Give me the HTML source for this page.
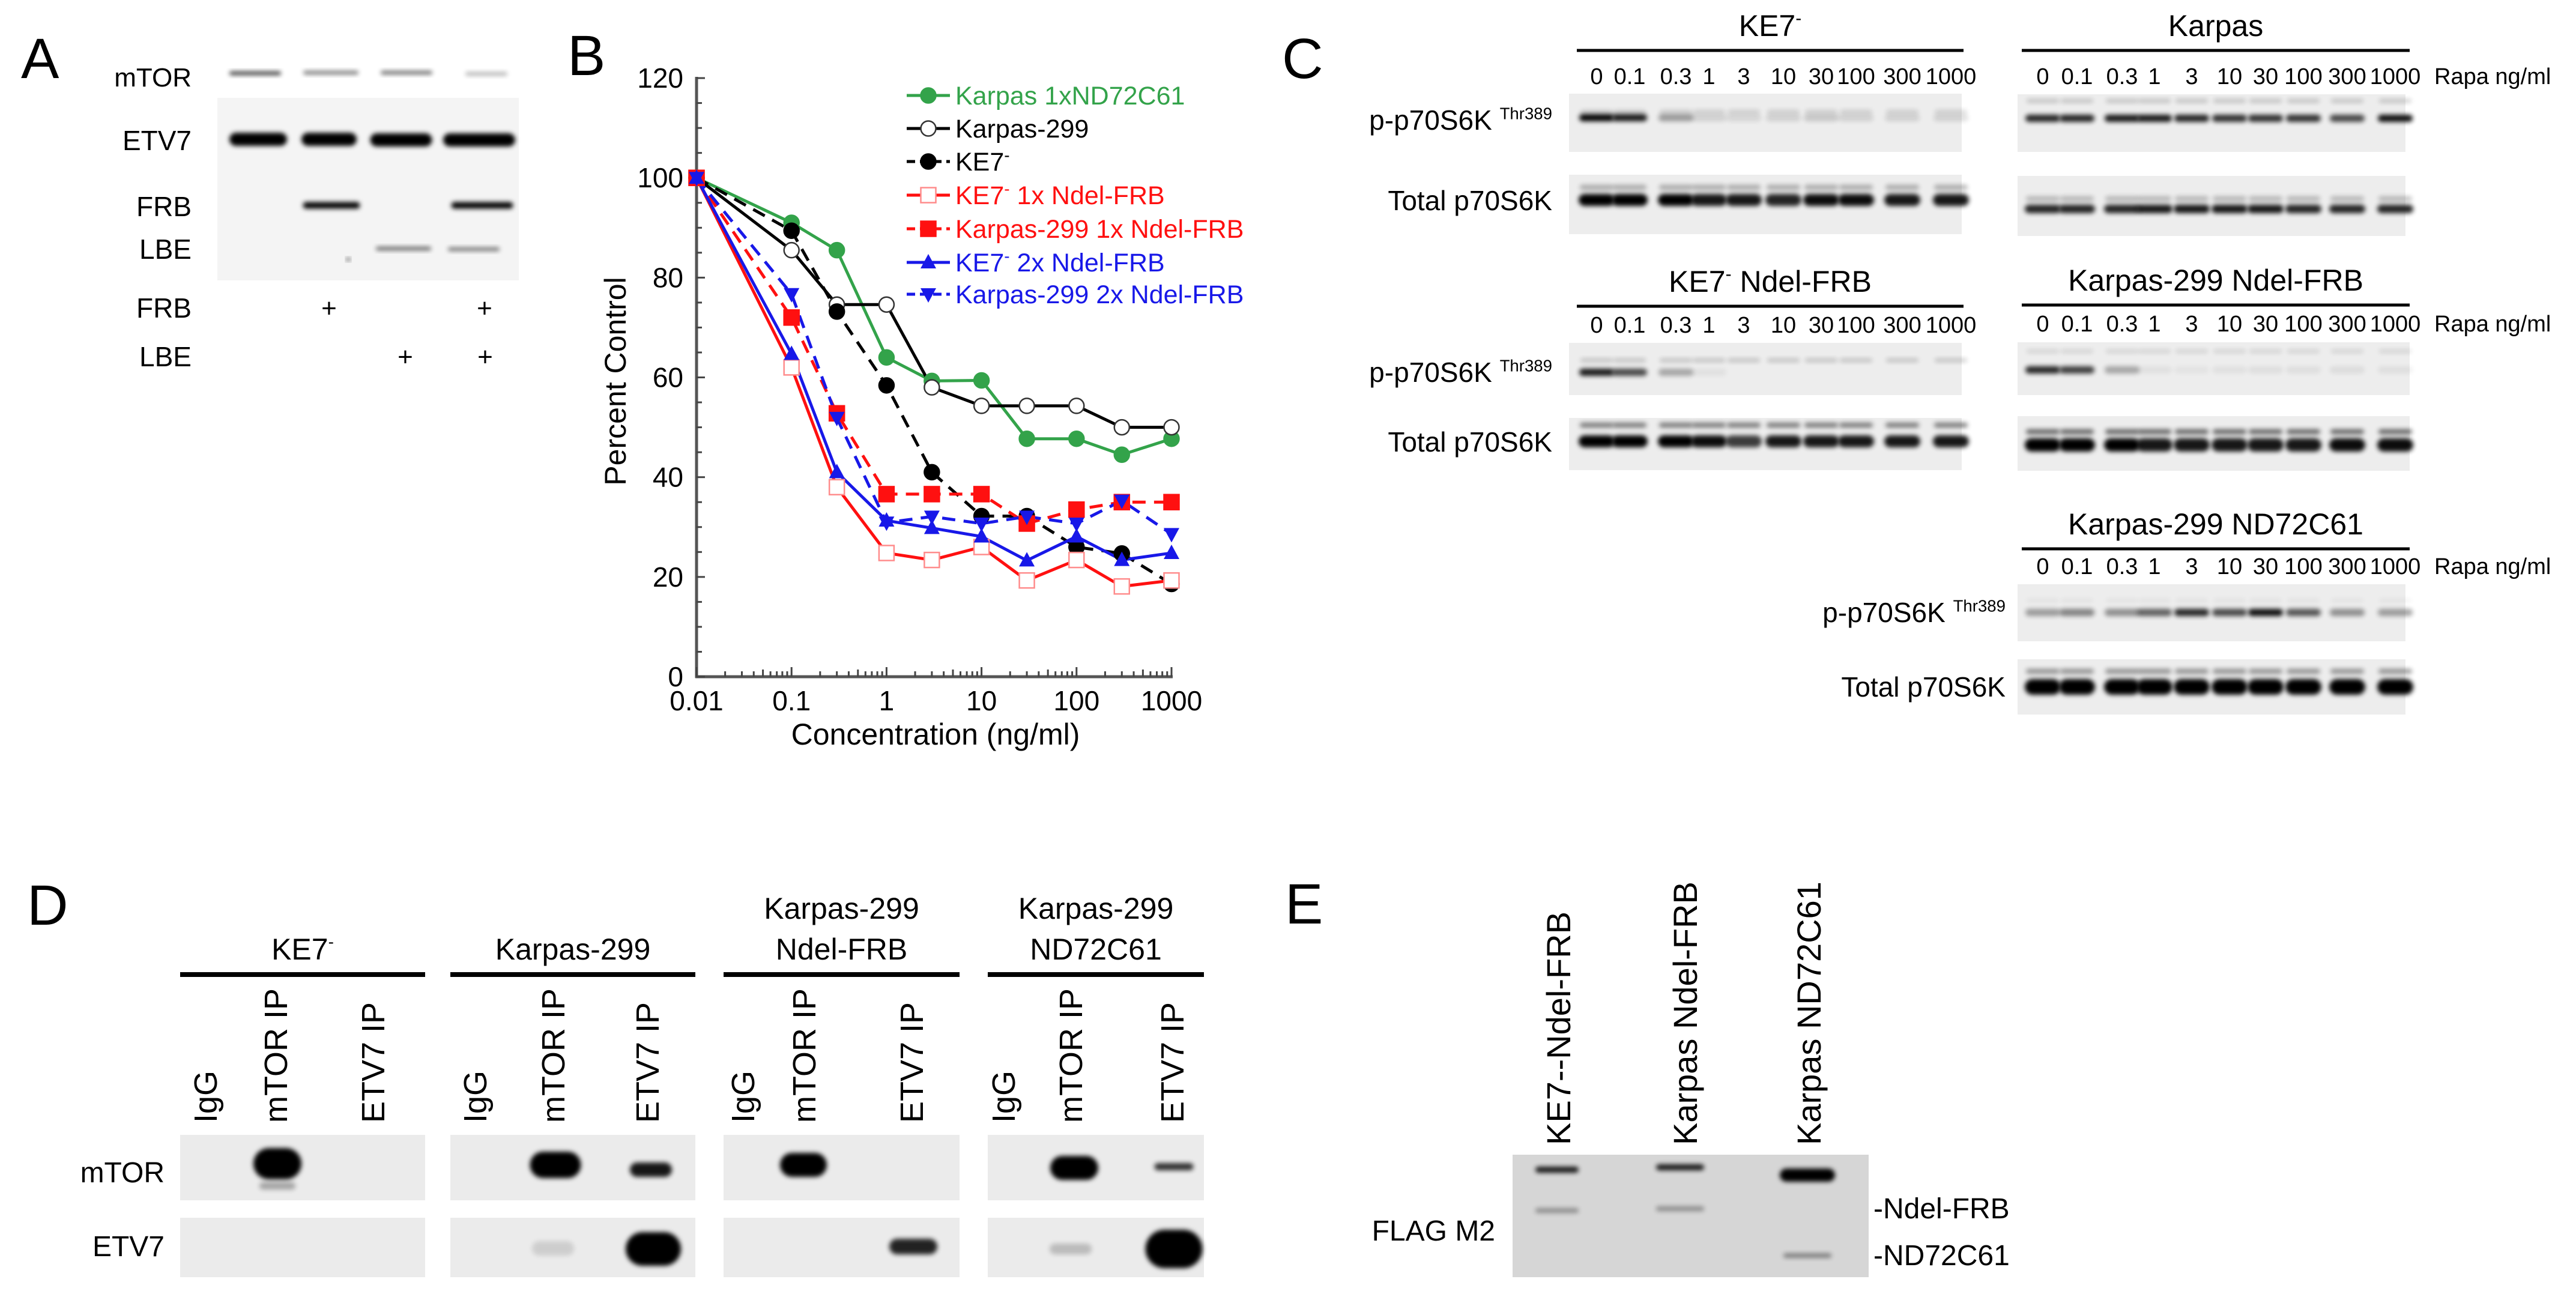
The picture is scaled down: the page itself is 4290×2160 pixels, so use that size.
<!DOCTYPE html>
<html><head><meta charset="utf-8"><style>
html,body{margin:0;padding:0;background:#fff}
svg{display:block;font-family:"Liberation Sans",Arial,sans-serif}
</style></head><body>
<svg id="fig" width="4290" height="2160" viewBox="0 0 4290 2160" xmlns="http://www.w3.org/2000/svg">
<defs>
<filter id="blur" x="-20%" y="-100%" width="140%" height="300%"><feGaussianBlur stdDeviation="4"/></filter>
</defs>
<rect width="4290" height="2160" fill="#fff"/>
<g font-size="95" fill="#000">
<text x="35" y="130">A</text>
<text x="945" y="125">B</text>
<text x="2135" y="130">C</text>
<text x="45" y="1540">D</text>
<text x="2140" y="1538">E</text>
</g>
<g id="panelA"></g>
<g id="panelB"></g>
<g id="panelC"></g>
<g id="panelD"></g>
<g id="panelE"></g>
</svg>
<script>
// ---------- Chart B data ----------
const concentrations = [0.01, 0.1, 0.3, 1, 3, 10, 30, 100, 300, 1000];
const karpasND72C61 = [100, 91, 85.5, 64, 59.3, 59.4, 47.7, 47.7, 44.5, 47.7];
const karpas299 = [100, 85.5, 74.6, 74.6, 58, 54.3, 54.3, 54.3, 50, 50];
const ke7 = [100, 89.4, 73.2, 58.4, 41, 32.2, 32.2, 26, 24.7, 18.6];
const ke7Ndel1x = [100, 62, 38, 24.8, 23.4, 26, 19.3, 23.4, 18.1, 19.3];
const karpasNdel1x = [100, 72, 52.8, 36.6, 36.6, 36.6, 30.7, 33.5, 35, 35];
const ke7Ndel2x = [100, 64.7, 41, 31.3, 29.8, 28.1, 23.3, 28.1, 23.4, 24.8];
const karpasNdel2x = [100, 76.7, 51.9, 30.9, 32.1, 30.7, 32.1, 30.7, 35.3, 28.6];
const seriesNames = ["Karpas 1xND72C61", "Karpas-299", "KE7- ", "KE7- 1x Ndel-FRB", "Karpas-299 1x Ndel-FRB", "KE7- 2x Ndel-FRB", "Karpas-299 2x Ndel-FRB"];
const yTicks = [0, 20, 40, 60, 80, 100, 120];
const xTicks = [0.01, 0.1, 1, 10, 100, 1000];
const xTickLabels = ["0.01", "0.1", "1", "10", "100", "1000"];

const NS = "http://www.w3.org/2000/svg";
function mk(tag, attrs, parent) {
  const e = document.createElementNS(NS, tag);
  for (const k in attrs) e.setAttribute(k, attrs[k]);
  if (parent) parent.appendChild(e);
  return e;
}
function txt(parent, x, y, s, size, anchor, fill, name) {
  const t = mk('text', {x: x, y: y, 'font-size': size, 'text-anchor': anchor || 'start', fill: fill || '#000'}, parent);
  t.textContent = s;
  
  
  return t;
}

// ---------- Chart B ----------
(function () {
  const g = document.getElementById('panelB');
  const X0 = 1160, DEC = 158.2, Y0 = 1127, PY = 8.308;
  const xs = v => X0 + (Math.log10(v) + 2) * DEC;
  const ys = v => Y0 - v * PY;
  const ax = mk('line', {x1: X0, y1: ys(120) - 2, x2: X0, y2: Y0 + 2, stroke: '#555', 'stroke-width': 5}, g);
  
  
  const bx = mk('line', {x1: X0 - 2, y1: Y0, x2: xs(1000) + 2, y2: Y0, stroke: '#555', 'stroke-width': 5}, g);
  
  
  for (let v = 0; v <= 120; v += 5) {
    const major = v % 20 === 0;
    const t = mk('line', {x1: X0, x2: X0 + (major ? 14 : 9), y1: ys(v), y2: ys(v), stroke: '#444', 'stroke-width': 3}, g);
    
    
  }
  yTicks.forEach(v => txt(g, X0 - 22, ys(v) + 16, String(v), 46, 'end', '#000', 'y-tick-label'));
  for (let d = -2; d < 3; d++) {
    for (let m = 2; m <= 9; m++) {
      const xv = xs(m * Math.pow(10, d));
      const t = mk('line', {x1: xv, x2: xv, y1: Y0, y2: Y0 - (m === 5 ? 12 : 9), stroke: '#444', 'stroke-width': 3}, g);
      
      
    }
  }
  xTicks.forEach((v, i) => {
    const t = mk('line', {x1: xs(v), x2: xs(v), y1: Y0, y2: Y0 - 16, stroke: '#444', 'stroke-width': 3}, g);
    
    
    txt(g, xs(v), Y0 + 56, xTickLabels[i], 46, 'middle', '#000', 'x-tick-label');
  });
  txt(g, 1558, 1240, 'Concentration (ng/ml)', 50, 'middle', '#000', 'x-axis-title');
  const yt = txt(g, 0, 0, 'Percent  Control', 50, 'middle', '#000', 'y-axis-title');
  yt.setAttribute('transform', 'translate(1042,635) rotate(-90)');

  const series = [
    {d: karpasND72C61, c: '#33a34a', dash: null, m: 'circle', fill: '#33a34a'},
    {d: karpas299, c: '#000', dash: null, m: 'circle', fill: '#fff'},
    {d: ke7, c: '#000', dash: '22 14', m: 'circle', fill: '#000'},
    {d: ke7Ndel1x, c: '#ff1010', dash: null, m: 'square', fill: '#fff', stroke: '#ff8c8c'},
    {d: karpasNdel1x, c: '#ff1010', dash: '22 14', m: 'square', fill: '#ff1010'},
    {d: ke7Ndel2x, c: '#1818e8', dash: null, m: 'tri', fill: '#1818e8'},
    {d: karpasNdel2x, c: '#1818e8', dash: '22 14', m: 'dtri', fill: '#1818e8'}
  ];
  function marker(par, s, x, y, name) {
    let e;
    if (s.m === 'circle') e = mk('circle', {cx: x, cy: y, r: 12.5, fill: s.fill, stroke: s.fill === '#fff' ? '#333' : s.c, 'stroke-width': 2.5}, par);
    else if (s.m === 'square') e = mk('rect', {x: x - 12.5, y: y - 12.5, width: 25, height: 25, fill: s.fill, stroke: s.stroke || s.c, 'stroke-width': 2.5}, par);
    else if (s.m === 'tri') e = mk('polygon', {points: `${x},${y - 14} ${x + 13},${y + 10} ${x - 13},${y + 10}`, fill: s.fill}, par);
    else e = mk('polygon', {points: `${x},${y + 14} ${x + 13},${y - 10} ${x - 13},${y - 10}`, fill: s.fill}, par);
    
    
  }
  series.forEach((s, i) => {
    const pts = s.d.map((v, j) => xs(concentrations[j]) + ',' + ys(v)).join(' ');
    const pl = mk('polyline', {points: pts, fill: 'none', stroke: s.c, 'stroke-width': 5}, g);
    if (s.dash) pl.setAttribute('stroke-dasharray', s.dash);
    
    
  });
  series.forEach((s, i) => {
    s.d.forEach((v, j) => marker(g, s, xs(concentrations[j]), ys(v), 'data-point'));
  });
  const legY = [159, 214, 269, 325, 381, 437, 490];
  const colors = ['#33a34a', '#000', '#000', '#ff1010', '#ff1010', '#1818e8', '#1818e8'];
  series.forEach((s, i) => {
    const y = legY[i];
    const l = mk('line', {x1: 1510, x2: 1582, y1: y, y2: y, stroke: s.c, 'stroke-width': 5}, g);
    if (s.dash) l.setAttribute('stroke-dasharray', '14 8');
    
    
    marker(g, s, 1546, y, 'legend-marker');
    const nm = seriesNames[i];
    const t = txt(g, 1591, y + 15, '', 43, 'start', colors[i], 'legend-entry');
    if (nm.startsWith('KE7-')) {
      const a = mk('tspan', {}, t); a.textContent = 'KE7';
      const b = mk('tspan', {'font-size': 28, dy: -16}, t); b.textContent = '-';
      const c = mk('tspan', {dy: 16}, t); c.textContent = nm.slice(4);
    } else t.textContent = nm;
  });
})();

function bg(par, x, y, w, h, fill, name) {
  const r = mk('rect', {x: x, y: y, width: w, height: h, fill: fill}, par);
  
  
}
function band(par, cx, cy, w, h, op) {
  if (op <= 0) return;
  const r = mk('rect', {x: cx - w / 2, y: cy - h / 2, width: w, height: h, rx: h / 2, fill: '#000', opacity: op, filter: 'url(#blur)'}, par);
  
  
}
function supLabel(par, x, y, base, sup, size, anchor, name) {
  const t = txt(par, x, y, '', size, anchor, '#000', name);
  const a = mk('tspan', {}, t); a.textContent = base;
  const b = mk('tspan', {'font-size': size * 0.6, dy: -size * 0.38}, t); b.textContent = sup;
  return t;
}

// ---------- Panel A ----------
(function () {
  const g = document.getElementById('panelA');
  bg(g, 362, 163, 502, 304, '#f4f4f4', 'blot-a');
  txt(g, 319, 144, 'mTOR', 44, 'end', '#000', 'row-label');
  txt(g, 319, 250, 'ETV7', 46, 'end', '#000', 'row-label');
  txt(g, 319, 360, 'FRB', 46, 'end', '#000', 'row-label');
  txt(g, 319, 431, 'LBE', 46, 'end', '#000', 'row-label');
  txt(g, 319, 529, 'FRB', 46, 'end', '#000', 'row-label');
  txt(g, 319, 610, 'LBE', 46, 'end', '#000', 'row-label');
  [[425, 122, 86, 0.8], [551, 121, 92, 0.55], [677, 121, 86, 0.6], [810, 123, 70, 0.3]].forEach(b => band(g, b[0], b[1], b[2], 6, b[3]));
  [[430, 232, 96], [548, 232, 92], [668, 233, 103], [798, 233, 120]].forEach(b => band(g, b[0], b[1], b[2], 22, 1));
  band(g, 552, 342, 95, 11, 1); band(g, 803, 342, 103, 11, 1);
  band(g, 672, 414, 92, 6, 0.6); band(g, 789, 415, 86, 6, 0.55);
  band(g, 580, 432, 8, 4, 0.8);
  txt(g, 548, 528, '+', 44, 'middle', '#000', 'frb-plus');
  txt(g, 807, 528, '+', 44, 'middle', '#000', 'frb-plus');
  txt(g, 675, 609, '+', 44, 'middle', '#000', 'lbe-plus');
  txt(g, 808, 609, '+', 44, 'middle', '#000', 'lbe-plus');
})();

// ---------- Panel C ----------
(function () {
  const g = document.getElementById('panelC');
  const lanesL = [2659, 2714, 2791, 2846, 2904, 2970, 3033, 3091, 3168, 3249];
  const lanesR = [3402, 3459, 3534, 3588, 3650, 3713, 3773, 3836, 3909, 3989];
  const labels = ['0', '0.1', '0.3', '1', '3', '10', '30', '100', '300', '1000'];
  function group(lanes, x0, x1, title, titleSup, ty, ly, rapa) {
    const cx = (x0 + x1) / 2;
    if (titleSup !== null) {
      const t = txt(g, cx, ty, '', 50, 'middle', '#000', 'group-title');
      const a = mk('tspan', {}, t); a.textContent = 'KE7';
      const b = mk('tspan', {'font-size': 30, dy: -20}, t); b.textContent = '-';
      const c = mk('tspan', {dy: 20}, t); c.textContent = titleSup;
    } else txt(g, cx, ty, title, 50, 'middle', '#000', 'group-title');
    const l = mk('line', {x1: x0, x2: x1, y1: ty + 24, y2: ty + 24, stroke: '#000', 'stroke-width': 5}, g);
    
    
    lanes.forEach((x, i) => txt(g, x, ly, labels[i], 38, 'middle', '#000', 'lane-label'));
    if (rapa) txt(g, 4054, ly, 'Rapa ng/ml', 38, 'start', '#000', 'rapa-label');
  }
  function rows(lanes, bx0, bx1, py0, py1, pY, pOps, upY, upOp, ty0, ty1, tY, tOps, tUpY, tUpOp, tH) {
    bg(g, bx0, py0, bx1 - bx0, py1 - py0, '#ededed', 'blot-phospho');
    bg(g, bx0, ty0, bx1 - bx0, ty1 - ty0, '#ededed', 'blot-total');
    lanes.forEach((x, i) => {
      band(g, x, pY, 58, 12, pOps[i]);
      band(g, x, upY, 54, 6, upOp);
      band(g, x, tY, 60, tH, tOps[i]);
      band(g, x, tUpY, 56, 8, tUpOp);
    });
  }
  group(lanesL, 2626, 3270, 'KE7', '', 60, 140, false);
  group(lanesR, 3367, 4013, 'Karpas', null, 60, 140, true);
  rows(lanesL, 2613, 3267, 156, 253, 196, [1, 0.9, 0.35, 0.12, 0.1, 0.12, 0.16, 0.12, 0.12, 0.12], 186, 0.15,
       291, 390, 333, [1, 1, 1, 0.9, 0.9, 0.85, 0.95, 0.95, 0.9, 0.9], 312, 0.3, 20);
  rows(lanesR, 3360, 4006, 157, 253, 197, [0.85, 0.85, 0.9, 0.9, 0.85, 0.8, 0.8, 0.8, 0.7, 0.95], 168, 0.2,
       293, 393, 348, [0.85, 0.85, 0.85, 0.9, 0.9, 0.9, 0.9, 0.85, 0.85, 0.85], 331, 0.25, 14);
  supLabel(g, 2585, 216, 'p-p70S6K ', 'Thr389', 46, 'end', 'row-label-phospho');
  txt(g, 2585, 350, 'Total p70S6K', 46, 'end', '#000', 'row-label-total');

  group(lanesL, 2626, 3270, 'KE7', ' Ndel-FRB', 486, 554, false);
  group(lanesR, 3367, 4013, 'Karpas-299 Ndel-FRB', null, 484, 552, true);
  rows(lanesL, 2613, 3267, 571, 658, 620, [0.9, 0.7, 0.3, 0.05, 0, 0, 0, 0, 0, 0], 600, 0.2,
       696, 783, 735, [1, 1, 1, 0.95, 0.75, 0.9, 0.9, 0.9, 0.9, 0.9], 708, 0.5, 20);
  rows(lanesR, 3360, 4013, 570, 658, 616, [0.85, 0.75, 0.3, 0.05, 0.04, 0.05, 0.06, 0.06, 0.07, 0.06], 585, 0.12,
       693, 784, 741, [1, 1, 1, 0.9, 0.9, 0.9, 0.9, 0.9, 0.95, 0.95], 719, 0.6, 22);
  supLabel(g, 2585, 636, 'p-p70S6K ', 'Thr389', 46, 'end', 'row-label-phospho');
  txt(g, 2585, 752, 'Total p70S6K', 46, 'end', '#000', 'row-label-total');

  group(lanesR, 3367, 4013, 'Karpas-299 ND72C61', null, 890, 956, true);
  rows(lanesR, 3360, 4006, 973, 1068, 1020, [0.35, 0.45, 0.4, 0.6, 0.85, 0.7, 0.95, 0.65, 0.4, 0.35], 1000, 0.05,
       1098, 1190, 1144, [1, 1, 1, 1, 1, 1, 1, 1, 1, 1], 1118, 0.4, 26);
  supLabel(g, 3340, 1036, 'p-p70S6K ', 'Thr389', 46, 'end', 'row-label-phospho');
  txt(g, 3340, 1160, 'Total p70S6K', 46, 'end', '#000', 'row-label-total');
})();

// ---------- Panel D ----------
(function () {
  const g = document.getElementById('panelD');
  const groups = [
    {x0: 300, x1: 708, t: ['KE7'], lanes: [342, 459, 621]},
    {x0: 750, x1: 1158, t: ['Karpas-299'], lanes: [791, 921, 1078]},
    {x0: 1205, x1: 1598, t: ['Karpas-299', 'Ndel-FRB'], lanes: [1237, 1339, 1518]},
    {x0: 1645, x1: 2005, t: ['Karpas-299', 'ND72C61'], lanes: [1671, 1783, 1952]}
  ];
  const laneNames = ['IgG', 'mTOR IP', 'ETV7 IP'];
  groups.forEach((gr, i) => {
    const cx = (gr.x0 + gr.x1) / 2;
    if (gr.t.length === 1) {
      if (i === 0) {
        const t = txt(g, cx, 1598, '', 50, 'middle', '#000', 'group-title');
        const a = mk('tspan', {}, t); a.textContent = 'KE7';
        const b = mk('tspan', {'font-size': 28, dy: -20}, t); b.textContent = '-';
      } else txt(g, cx, 1598, gr.t[0], 50, 'middle', '#000', 'group-title');
    } else {
      txt(g, cx, 1530, gr.t[0], 50, 'middle', '#000', 'group-title');
      txt(g, cx, 1598, gr.t[1], 50, 'middle', '#000', 'group-title');
    }
    const l = mk('line', {x1: gr.x0, x2: gr.x1, y1: 1623, y2: 1623, stroke: '#000', 'stroke-width': 8}, g);
    
    
    gr.lanes.forEach((x, j) => {
      const t = txt(g, 0, 0, laneNames[j], 54, 'start', '#000', 'lane-label');
      t.setAttribute('transform', `translate(${x + 19},1870) rotate(-90)`);
    });
    bg(g, gr.x0, 1890, gr.x1 - gr.x0, 109, '#ebebeb', 'blot-mtor');
    bg(g, gr.x0, 2028, gr.x1 - gr.x0, 99, '#ebebeb', 'blot-etv7');
  });
  txt(g, 274, 1969, 'mTOR', 48, 'end', '#000', 'row-label');
  txt(g, 274, 2092, 'ETV7', 48, 'end', '#000', 'row-label');
  band(g, 462, 1938, 80, 52, 1); band(g, 462, 1975, 60, 12, 0.3);
  band(g, 925, 1940, 85, 44, 1); band(g, 1084, 1948, 70, 24, 0.9);
  band(g, 1338, 1940, 78, 40, 1);
  band(g, 1789, 1945, 80, 40, 1); band(g, 1955, 1943, 65, 12, 0.8);
  band(g, 921, 2079, 70, 24, 0.12);
  band(g, 1088, 2080, 92, 56, 1);
  band(g, 1521, 2076, 80, 26, 0.85);
  band(g, 1783, 2080, 70, 18, 0.2);
  band(g, 1955, 2080, 95, 64, 1);
})();

// ---------- Panel E ----------
(function () {
  const g = document.getElementById('panelE');
  bg(g, 2519, 1923, 593, 204, '#d6d6d6', 'blot-flag');
  const lanes = [2595, 2806, 3012];
  const names = ['KE7--Ndel-FRB', 'Karpas Ndel-FRB', 'Karpas ND72C61'];
  lanes.forEach((x, i) => {
    const t = txt(g, 0, 0, names[i], 56, 'start', '#000', 'lane-label');
    t.setAttribute('transform', `translate(${x + 20},1907) rotate(-90)`);
  });
  band(g, 2593, 1948, 72, 10, 0.9);
  band(g, 2798, 1944, 80, 10, 0.9);
  band(g, 3010, 1957, 92, 22, 1);
  band(g, 2593, 2016, 72, 8, 0.35);
  band(g, 2798, 2013, 80, 8, 0.35);
  band(g, 3010, 2091, 80, 7, 0.45);
  txt(g, 2490, 2066, 'FLAG M2', 48, 'end', '#000', 'row-label');
  txt(g, 3120, 2029, '-Ndel-FRB', 48, 'start', '#000', 'band-label-ndel-frb');
  txt(g, 3120, 2107, '-ND72C61', 48, 'start', '#000', 'band-label-nd72c61');
})();
</script>
</body></html>
